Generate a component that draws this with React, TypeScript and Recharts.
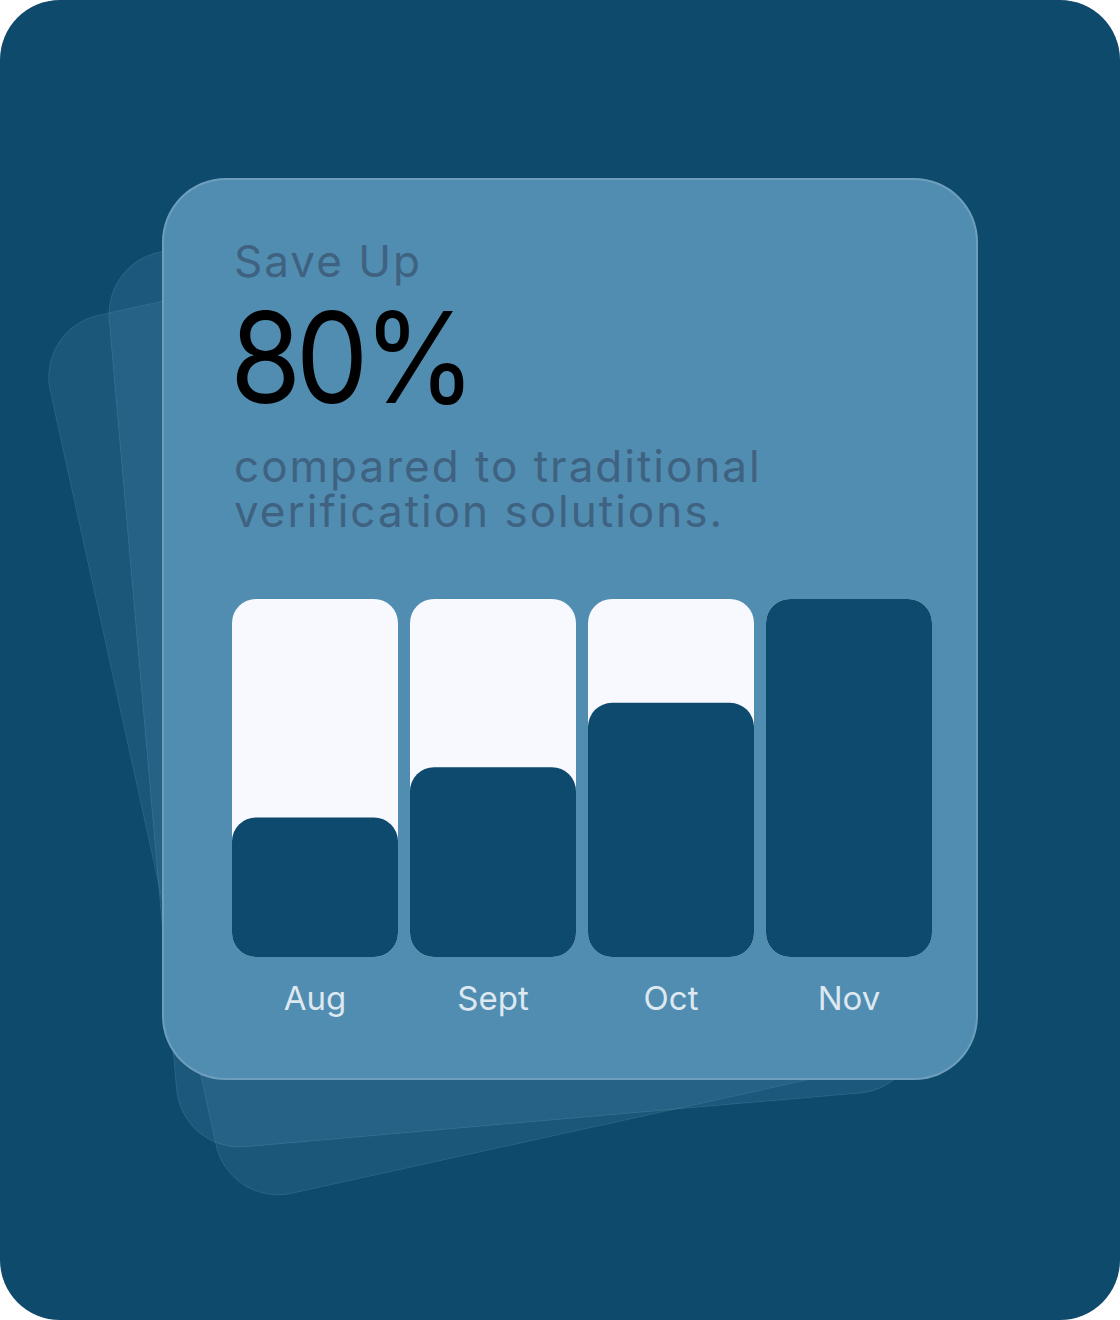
import { BarChart, Bar, XAxis, YAxis } from 'recharts';

const months = ['Aug', 'Sept', 'Oct', 'Nov'];
const savings = [39, 53, 71, 100];

const data = months.map((month, i) => ({ month, value: savings[i] }));

const BG = '#0d4a6c';
const CARD = '#518db1';
const BAR_DARK = '#0e4a6d';
const BAR_LIGHT = '#f7f9fe';
const FONT = 'Inter, "Noto Sans", sans-serif';

// tilted cards peeking out from behind the main card
function GhostCard({ left, top, angle, alpha }: { left: number; top: number; angle: number; alpha: number }) {
  return (
    <div
      style={{
        position: 'absolute',
        left,
        top,
        width: 745,
        height: 900,
        borderRadius: 64,
        boxSizing: 'border-box',
        background: `rgba(81,141,177,${alpha})`,
        border: '1.5px solid rgba(255,255,255,0.07)',
        transform: `rotate(${angle}deg)`,
      }}
    />
  );
}

export default function App() {
  return (
    <div
      style={{
        position: 'absolute',
        left: 0,
        top: 0,
        width: 1120,
        height: 1320,
        borderRadius: 60,
        background: BG,
        overflow: 'hidden',
        fontFamily: FONT,
      }}
    >
      <GhostCard left={124} top={238} angle={-12.4} alpha={0.2} />
      <GhostCard left={141} top={222} angle={-5} alpha={0.22} />
      <div
        style={{
          position: 'absolute',
          left: 162,
          top: 178,
          width: 816,
          height: 902,
          borderRadius: 64,
          boxSizing: 'border-box',
          background: CARD,
          border: '2px solid rgba(255,255,255,0.16)',
        }}
      >
        <div
          style={{
            position: 'absolute',
            left: 70,
            top: 59,
            fontSize: 44,
            lineHeight: '44px',
            letterSpacing: 2,
            color: '#3f6281',
            whiteSpace: 'nowrap',
          }}
        >
          Save Up
        </div>
        <div
          style={{
            position: 'absolute',
            left: 66,
            top: 114,
            fontSize: 126,
            lineHeight: '126px',
            color: '#000',
            letterSpacing: -6,
            whiteSpace: 'nowrap',
            transform: 'scaleX(0.915)',
            transformOrigin: 'left center',
          }}
        >
          80%
        </div>
        <div
          style={{
            position: 'absolute',
            left: 70,
            top: 264,
            fontSize: 44,
            lineHeight: '45px',
            letterSpacing: 2,
            color: '#3f6281',
            whiteSpace: 'nowrap',
          }}
        >
          compared to traditional
          <br />
          verification solutions.
        </div>
        <div style={{ position: 'absolute', left: 62, top: 419 }}>
          <BarChart
            width={712}
            height={428}
            data={data}
            margin={{ top: 0, right: 0, bottom: 0, left: 0 }}
          >
            <XAxis
              dataKey="month"
              axisLine={false}
              tickLine={false}
              tickSize={0}
              tickMargin={30}
              height={70}
              interval={0}
              tick={{ fontSize: 33, fill: '#dde8f1', fontFamily: FONT }}
            />
            <YAxis hide domain={[0, 100]} />
            <Bar
              dataKey="value"
              barSize={166}
              fill={BAR_DARK}
              radius={[24, 24, 24, 24]}
              background={{ fill: BAR_LIGHT, radius: 24 }}
              isAnimationActive={false}
            />
          </BarChart>
        </div>
      </div>
    </div>
  );
}
